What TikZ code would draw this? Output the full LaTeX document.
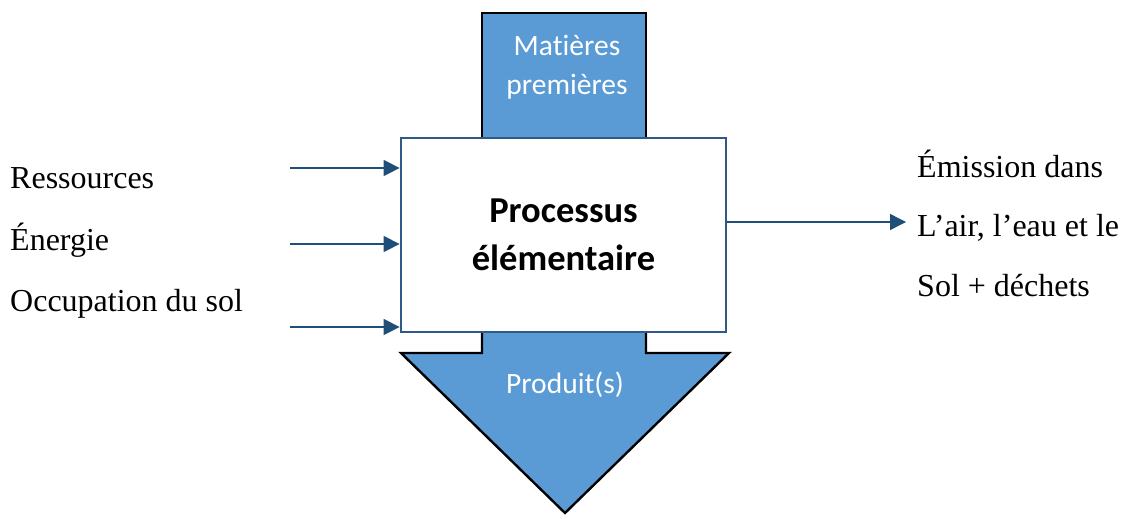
\documentclass[tikz,border=0pt]{standalone}
\usepackage{fontspec}
\setmainfont{Liberation Serif}
\newfontfamily\calfont[Ligatures=NoCommon]{Carlito}
\usetikzlibrary{arrows.meta,%
                positioning}
\definecolor{boxblue}{RGB}{91,155,213}
\definecolor{edgeblue}{RGB}{46,89,137}
\definecolor{flowblue}{RGB}{31,78,121}
\tikzset{
  flowshape/.style={draw=black,line width=2.4pt,fill=boxblue,line join=miter},
  inarrow/.style={draw=flowblue,line width=1.4pt,-{Triangle[length=16pt,width=16pt]}},
  sidetext/.style={inner sep=0pt,font=\fontsize{32}{36}\selectfont},
  whitetext/.style={inner sep=0pt,text=white,align=center,font=\calfont\fontsize{29.5}{39}\selectfont}
}

\begin{document}
\begin{tikzpicture}[x=1pt,y=-1pt]
\useasboundingbox (0,0) rectangle (1139,514);
% feeds and product
\draw[flowshape] (482,13) rectangle (646,150);
\draw[flowshape] (482,320) -- (482,353) -- (401,353) -- (565,513) -- (729,353)
                 -- (646,353) -- (646,320) -- cycle;
\node[whitetext] (feed) at (567,67) {Matières\\premières};
\node[whitetext] (prod) at (565,385) {Produit(s)};
% the unit process
\node[draw=edgeblue,line width=2.8pt,fill=white,minimum width=325pt,minimum height=194pt,
      align=center,font=\calfont\bfseries\fontsize{36.5}{48}\selectfont] (proc) at (563.5,235)
      {Processus\\élémentaire};
% inputs
\node[sidetext,anchor=base west] (res) at (10,188) {Ressources};
\node[sidetext,anchor=base west] (ene) at (10,250) {Énergie};
\node[sidetext,anchor=base west] (occ) at (10,311) {Occupation du sol};
\coordinate (inA) at (290,168);
\coordinate (inB) at (290,244);
\coordinate (inC) at (290,327);
\draw[inarrow] (inA) -- (inA -| proc.west);
\draw[inarrow] (inB) -- (inB -| proc.west);
\draw[inarrow] (inC) -- (inC -| proc.west);
% outputs
\node[sidetext,anchor=base west] (emi) at (917,177) {Émission dans};
\node[sidetext,anchor=base west] (air) at (917,236) {L’air, l’eau et le};
\node[sidetext,anchor=base west] (sol) at (917,296) {Sol + déchets};
\coordinate (outA) at (proc.east |- 0,222);
\draw[inarrow] (outA) -- (906,222);
\end{tikzpicture}
\end{document}
